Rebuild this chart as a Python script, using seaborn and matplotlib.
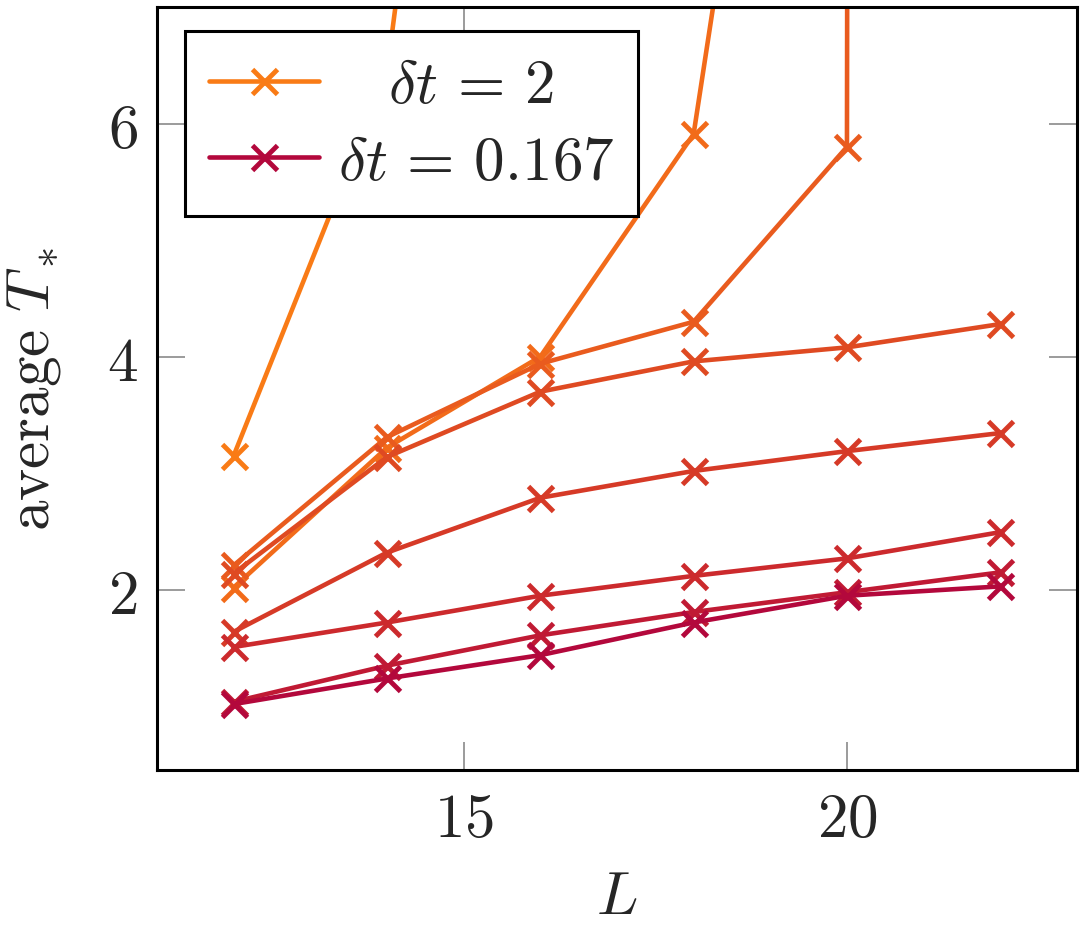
import matplotlib
matplotlib.use("Agg")
import matplotlib.pyplot as plt
from matplotlib.lines import Line2D
import seaborn as sns

sns.set_style("ticks")
plt.rcParams["mathtext.fontset"] = "cm"
plt.rcParams["font.family"] = ["DejaVu Serif"]

# system size L and average T_* for each time step, orange (dt=2) -> crimson (dt=0.167)
L = [12, 14, 16, 18, 20, 22]
t_dt1 = [3.15, 6.44, 16.6]
t_dt2 = [2.02, 3.22, 4.00, 5.91, 14.5]
t_dt3 = [2.21, 3.31, 3.94, 4.30, 5.80, 900.0]
t_dt4 = [2.14, 3.14, 3.70, 3.96, 4.08, 4.28]
t_dt5 = [1.64, 2.32, 2.79, 3.02, 3.19, 3.345]
t_dt6 = [1.51, 1.72, 1.95, 2.12, 2.27, 2.495]
t_dt7 = [1.04, 1.35, 1.61, 1.81, 1.98, 2.15]
t_dt8 = [1.02, 1.24, 1.44, 1.72, 1.95, 2.03]
series = [t_dt1, t_dt2, t_dt3, t_dt4, t_dt5, t_dt6, t_dt7, t_dt8]
colors = ["#f97b16", "#f26b1a", "#e95b1e", "#df4a22", "#d63a27",
          "#cc2a2d", "#c01a34", "#b3083c"]
legend_labels = [r"$\enspace\;\,\delta t\,=\,2$", r"$\delta t\,=\,0.167$"]

xticks = [15, 20]
xticklabels = ["$15$", "$20$"]
yticks = [2, 4, 6]
yticklabels = ["$2$", "$4$", "$6$"]

FS = 44

fig, ax = plt.subplots(figsize=(10.84, 9.28), dpi=100)
fig.subplots_adjust(left=0.1448, right=0.9935, bottom=0.1692, top=0.9914)

for vals, col in zip(series, colors):
    sns.lineplot(x=L[:len(vals)], y=vals, ax=ax, color=col, marker="x",
                 markersize=18, markeredgewidth=3.5, markeredgecolor=col,
                 linewidth=3.3, sort=False, estimator=None)

ax.set_xlim(11, 23)
ax.set_ylim(0.455, 7.0)
ax.set_xticks(xticks)
ax.set_xticklabels(xticklabels)
ax.set_yticks(yticks)
ax.set_yticklabels(yticklabels)
ax.tick_params(direction="in", length=20, width=1.1, color="#808080",
               top=True, right=True, labelsize=FS, pad=14)
for sp in ax.spines.values():
    sp.set_visible(True)
    sp.set_color("black")
    sp.set_linewidth(2.2)

ax.set_xlabel("$L$", fontsize=FS)
ax.set_ylabel(r"$\mathrm{average}\ T_*$", fontsize=FS)
ax.xaxis.set_label_coords(0.5, -0.126)
ax.yaxis.set_label_coords(-0.102, 0.5)

handles = [Line2D([], [], color=c, marker="x", markersize=18,
                  markeredgewidth=3.5, linewidth=3.3)
           for c in (colors[0], colors[-1])]
leg = ax.legend(handles, legend_labels, loc="upper left",
                bbox_to_anchor=(0.0304, 0.9686), fontsize=FS, frameon=True,
                fancybox=False, framealpha=1, edgecolor="black",
                handlelength=1.8, handletextpad=0.3, borderpad=0.4,
                labelspacing=0.27, borderaxespad=0)
leg.get_frame().set_linewidth(2.2)

fig.savefig("out.png", dpi=100)
